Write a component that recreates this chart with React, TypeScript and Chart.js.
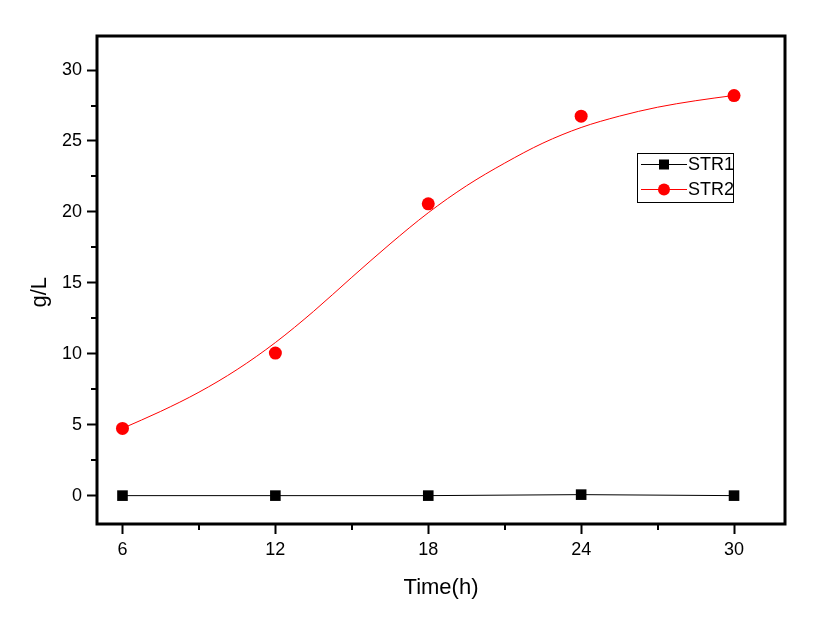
import React, { useEffect, useRef } from 'react';
import { Chart, registerables } from 'chart.js';

Chart.register(...registerables);

// ---- data ----
const hours = [6, 12, 18, 24, 30];
const str1 = [0, 0, 0, 0.07, 0];
const str2 = [4.74, 10.05, 20.57, 26.75, 28.2];

// smooth fitted curve for STR2
const fitHours = [6, 7.5, 9, 10.5, 12, 13.5, 15, 16.5, 18, 19.5, 21, 22.5, 24, 25.5, 27, 28.5, 30];
const fitStr2 = [4.74, 5.94, 7.29, 8.89, 10.79, 12.99, 15.39, 17.74, 19.94, 21.84, 23.44, 24.85, 25.95, 26.75, 27.38, 27.84, 28.21];

const timeTicks = [6, 12, 18, 24, 30];
const timeMinorTicks = [9, 15, 21, 27];
const glTicks = [0, 5, 10, 15, 20, 25, 30];
const glMinorTicks = [2.5, 7.5, 12.5, 17.5, 22.5, 27.5];

const legendLabels = ['STR1', 'STR2'];

const FONT = "'Liberation Sans', Arial, sans-serif";

export default function App() {
  const ref = useRef<HTMLCanvasElement>(null);

  useEffect(() => {
    const canvas = ref.current;
    if (!canvas) return;

    const framePlugin = {
      id: 'frameAndLegend',
      afterDraw(chart: any) {
        const { ctx, chartArea } = chart;
        const xs = chart.scales.x;
        const ys = chart.scales.y;
        ctx.save();
        // frame
        ctx.strokeStyle = '#000';
        ctx.lineWidth = 3;
        ctx.strokeRect(chartArea.left, chartArea.top, chartArea.right - chartArea.left, chartArea.bottom - chartArea.top);
        // minor ticks
        ctx.lineWidth = 2;
        ctx.beginPath();
        timeMinorTicks.forEach((v) => {
          const px = Math.round(xs.getPixelForValue(v));
          ctx.moveTo(px, chartArea.bottom);
          ctx.lineTo(px, chartArea.bottom + 6);
        });
        glMinorTicks.forEach((v) => {
          const py = Math.round(ys.getPixelForValue(v));
          ctx.moveTo(chartArea.left, py);
          ctx.lineTo(chartArea.left - 6, py);
        });
        ctx.stroke();

        // legend
        const lx = chartArea.right - 148;
        const ly = chartArea.top + 117;
        const lw = 96;
        const lh = 49;
        ctx.fillStyle = '#fff';
        ctx.fillRect(lx, ly, lw, lh);
        ctx.lineWidth = 1;
        ctx.strokeStyle = '#000';
        ctx.strokeRect(lx + 0.5, ly + 0.5, lw, lh);
        ctx.save();
        ctx.beginPath();
        ctx.rect(lx, ly, lw, lh);
        ctx.clip();
        const rows = [
          { color: '#000', style: 'rect' },
          { color: '#ff0000', style: 'circle' },
        ];
        rows.forEach((r, i) => {
          const cy = ly + 11.5 + i * 25;
          ctx.strokeStyle = r.color;
          ctx.lineWidth = 1;
          ctx.beginPath();
          ctx.moveTo(lx + 4, cy);
          ctx.lineTo(lx + 50, cy);
          ctx.stroke();
          ctx.fillStyle = r.color;
          if (r.style === 'rect') {
            ctx.fillRect(lx + 27 - 5, cy - 5, 10, 10);
          } else {
            ctx.beginPath();
            ctx.arc(lx + 27, cy, 6, 0, Math.PI * 2);
            ctx.fill();
          }
          ctx.fillStyle = '#000';
          ctx.font = `18px ${FONT}`;
          ctx.textAlign = 'left';
          ctx.textBaseline = 'middle';
          ctx.fillText(legendLabels[i], lx + 51, cy + 1);
        });
        ctx.restore();
        ctx.restore();
      },
    };

    const chart = new Chart(canvas, {
      type: 'line',
      data: {
        datasets: [
          {
            label: 'STR1',
            data: hours.map((h, i) => ({ x: h, y: str1[i] })),
            borderColor: '#000',
            backgroundColor: '#000',
            borderWidth: 1,
            pointStyle: 'rect',
            pointRadius: 7.5,
            pointBorderWidth: 0,
            tension: 0,
          },
          {
            label: 'STR2',
            data: hours.map((h, i) => ({ x: h, y: str2[i] })),
            showLine: false,
            borderColor: '#ff0000',
            backgroundColor: '#ff0000',
            pointStyle: 'circle',
            pointRadius: 6.5,
            pointBorderWidth: 0,
          },
          {
            label: 'STR2 fit',
            data: fitHours.map((h, i) => ({ x: h, y: fitStr2[i] })),
            borderColor: '#ff0000',
            borderWidth: 1,
            pointRadius: 0,
            cubicInterpolationMode: 'monotone',
          },
        ],
      },
      options: {
        responsive: false,
        animation: false,
        layout: { padding: { top: 36, right: 30, left: 0, bottom: 0 } },
        plugins: { legend: { display: false }, tooltip: { enabled: false } },
        scales: {
          x: {
            type: 'linear',
            min: 5,
            max: 32,
            afterFit(s: any) {
              s.height = 107;
            },
            afterBuildTicks(s: any) {
              s.ticks = timeTicks.map((v) => ({ value: v }));
            },
            grid: { drawOnChartArea: false, drawTicks: true, tickLength: 10, tickWidth: 2, tickColor: '#000' },
            border: { display: false },
            ticks: { color: '#000', font: { family: FONT, size: 18 }, padding: 5, maxRotation: 0, autoSkip: false },
            title: { display: true, text: 'Time(h)', color: '#000', font: { family: FONT, size: 22 }, padding: { top: 0, bottom: 30 } },
          },
          y: {
            type: 'linear',
            min: -2,
            max: 32.4,
            afterFit(s: any) {
              s.width = 97;
            },
            afterBuildTicks(s: any) {
              s.ticks = glTicks.map((v) => ({ value: v }));
            },
            grid: { drawOnChartArea: false, drawTicks: true, tickLength: 10, tickWidth: 2, tickColor: '#000' },
            border: { display: false },
            ticks: { color: '#000', font: { family: FONT, size: 18 }, padding: 5, autoSkip: false },
            title: { display: true, text: 'g/L    ', color: '#000', font: { family: FONT, size: 22 }, padding: { top: 27, bottom: 0 } },
          },
        },
      },
      plugins: [framePlugin],
    } as any);

    return () => chart.destroy();
  }, []);

  return (
    <div style={{ position: 'absolute', left: 0, top: 0, width: 815, height: 631, background: '#fff' }}>
      <canvas ref={ref} width={815} height={631} style={{ display: 'block' }} />
    </div>
  );
}
